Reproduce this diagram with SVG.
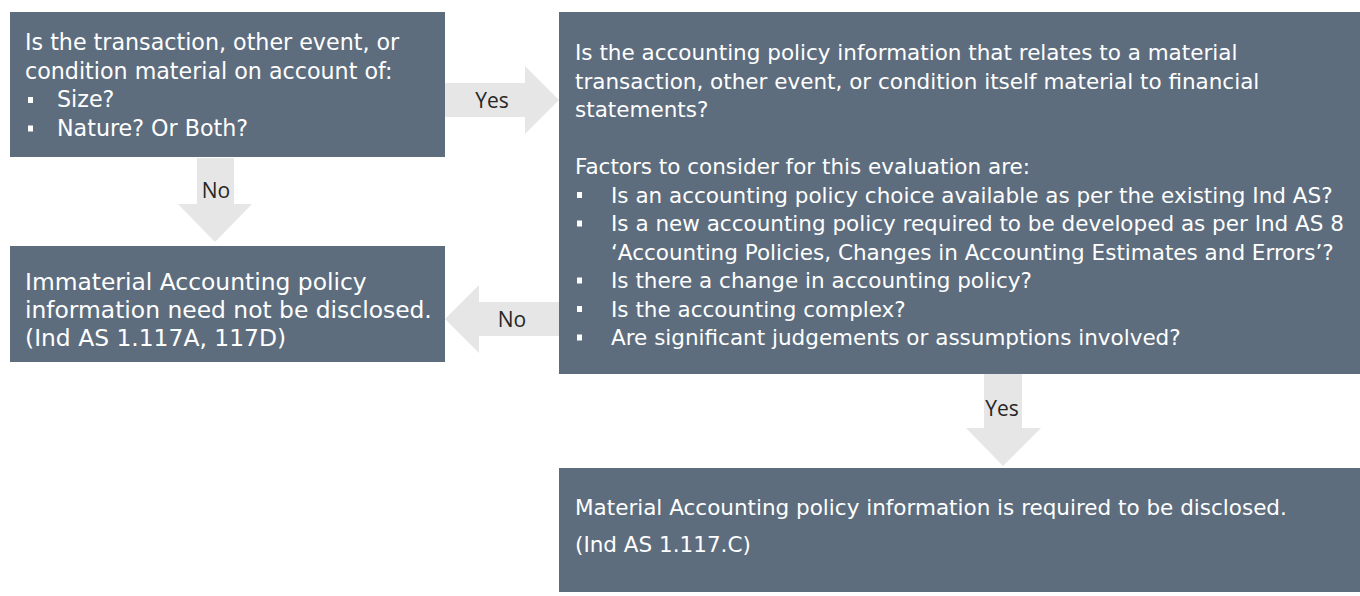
<svg xmlns="http://www.w3.org/2000/svg" width="1360" height="596" viewBox="0 0 1360 596">
<style>
.box{fill:#5d6d7e}
.arr{fill:#e6e6e6}
.t{font-family:"DejaVu Sans","Noto Sans",sans-serif;fill:#ffffff}
.ta{font-size:22.2px}
.tc{font-size:23.4px}
.tb{font-size:21.5px}
.lbl{font-family:"Open Sans","Noto Sans",sans-serif;font-size:21px;fill:#262626;text-anchor:middle;dominant-baseline:central}
.bul{fill:#ffffff}
</style>
<rect width="1360" height="596" fill="#ffffff"/>
<g id="connectors">
<g id="yes-right">
<polygon class="arr" points="444,83 525,83 525,66 559,100 525,134 525,117 444,117"/>
<text class="lbl" x="492" y="100">Yes</text>
</g>
<g id="no-down">
<polygon class="arr" points="197,158 234,158 234,204 252,204 215,242 178,204 197,204"/>
<text class="lbl" x="216" y="190">No</text>
</g>
<g id="no-left">
<polygon class="arr" points="559,302 479,302 479,285 445,319 479,353 479,336 559,336"/>
<text class="lbl" x="512" y="319" fill="#111111">No</text>
</g>
<g id="yes-down">
<polygon class="arr" points="984,374 1022,374 1022,428 1041,428 1003,466 966,428 984,428"/>
<text class="lbl" x="1002" y="408">Yes</text>
</g>
</g>
<g id="node-a">
<rect class="box" x="10" y="12" width="435" height="145"/>
<text class="t ta" x="25" y="50">Is the transaction, other event, or</text>
<text class="t ta" x="25" y="78.5">condition material on account of:</text>
<rect class="bul" x="28" y="97" width="5" height="6"/>
<text class="t ta" x="57" y="107">Size?</text>
<rect class="bul" x="28" y="125.5" width="5" height="6"/>
<text class="t ta" x="57" y="135.5">Nature? Or Both?</text>
</g>
<g id="node-b">
<rect class="box" x="559" y="12" width="801" height="362"/>
<text class="t tb" x="575" y="60">Is the accounting policy information that relates to a material</text>
<text class="t tb" x="575" y="88.5">transaction, other event, or condition itself material to financial</text>
<text class="t tb" x="575" y="117">statements?</text>
<text class="t tb" x="575" y="174">Factors to consider for this evaluation are:</text>
<rect class="bul" x="577" y="192" width="5" height="6"/>
<text class="t tb" x="611" y="202.5">Is an accounting policy choice available as per the existing Ind AS?</text>
<rect class="bul" x="577" y="220.5" width="5" height="6"/>
<text class="t tb" x="611" y="231">Is a new accounting policy required to be developed as per Ind AS 8</text>
<text class="t tb" x="611" y="259.5">‘Accounting Policies, Changes in Accounting Estimates and Errors’?</text>
<rect class="bul" x="577" y="277.5" width="5" height="6"/>
<text class="t tb" x="611" y="288">Is there a change in accounting policy?</text>
<rect class="bul" x="577" y="306" width="5" height="6"/>
<text class="t tb" x="611" y="316.5">Is the accounting complex?</text>
<rect class="bul" x="577" y="334.5" width="5" height="6"/>
<text class="t tb" x="611" y="345">Are significant judgements or assumptions involved?</text>
</g>
<g id="node-c">
<rect class="box" x="10" y="246" width="435" height="116"/>
<text class="t tc" x="25" y="290">Immaterial Accounting policy</text>
<text class="t tc" x="25" y="318">information need not be disclosed.</text>
<text class="t tc" x="25" y="346">(Ind AS 1.117A, 117D)</text>
</g>
<g id="node-d">
<rect class="box" x="559" y="468" width="801" height="124"/>
<text class="t tb" x="575" y="515">Material Accounting policy information is required to be disclosed.</text>
<text class="t tb" x="575" y="552">(Ind AS 1.117.C)</text>
</g>
</svg>
